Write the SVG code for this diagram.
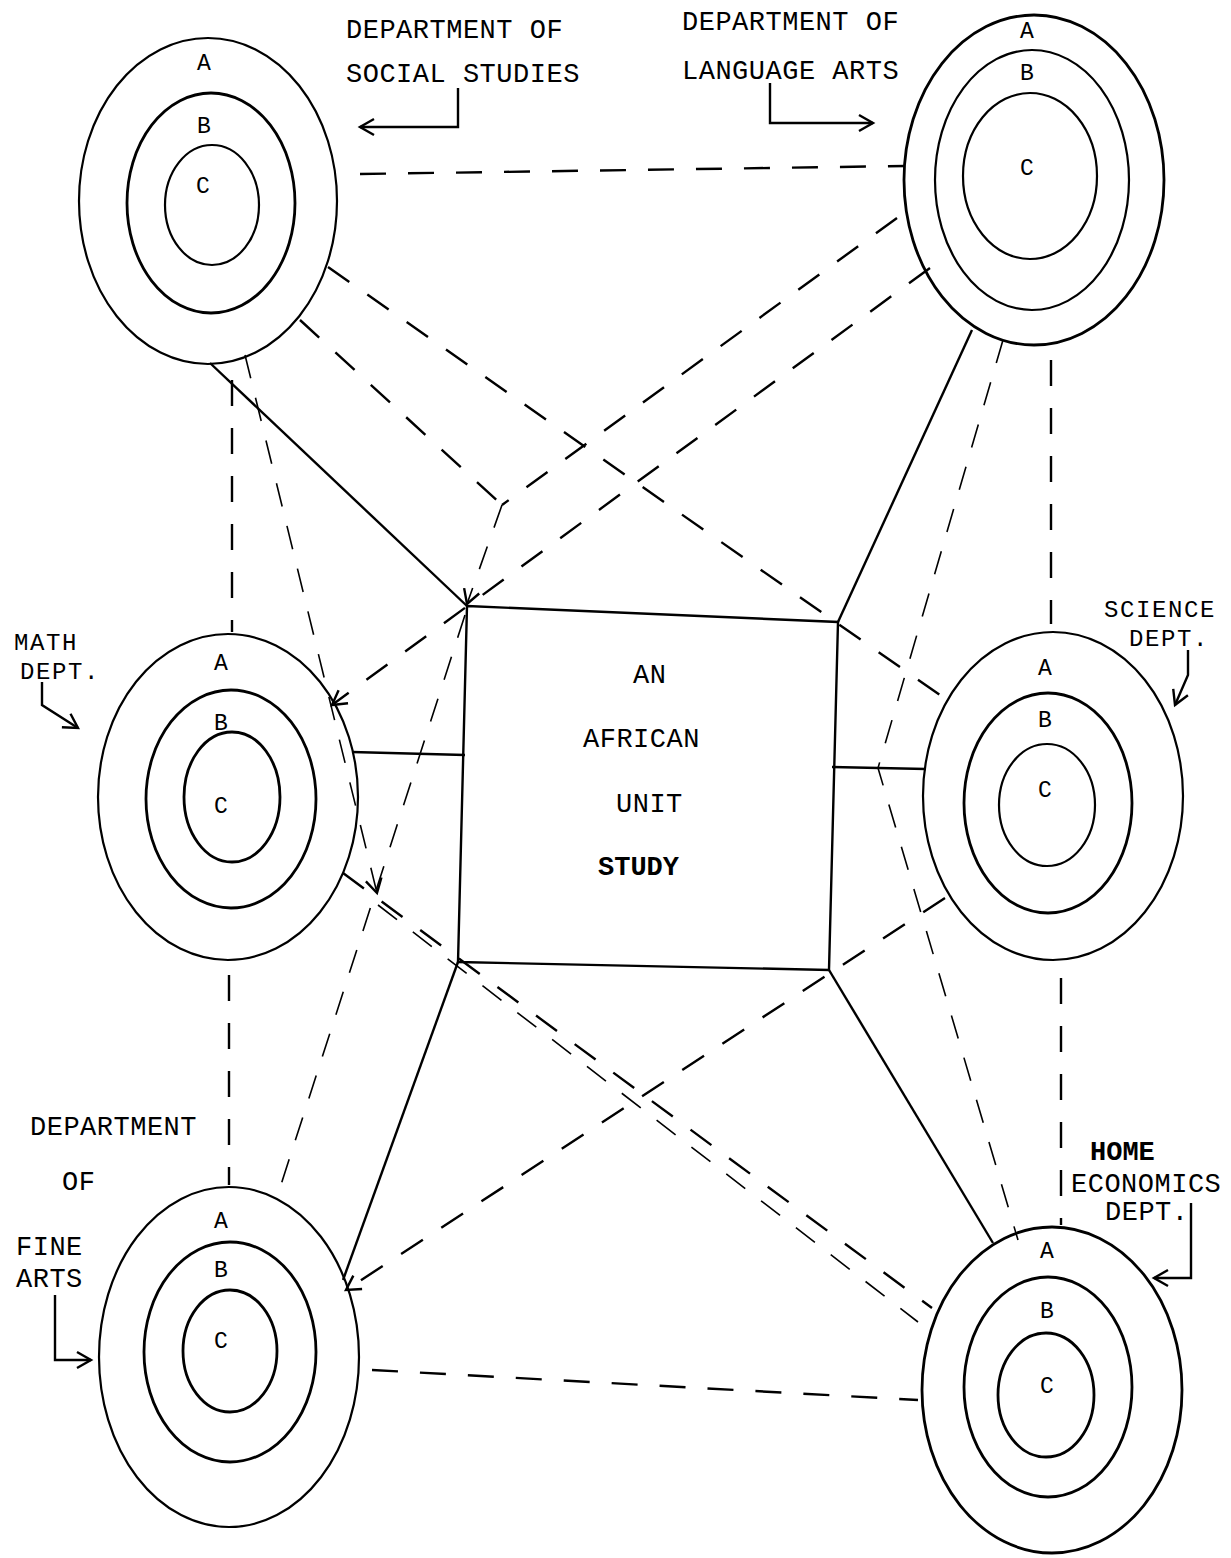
<svg xmlns="http://www.w3.org/2000/svg" width="1231" height="1558" viewBox="0 0 1231 1558">
<style>
.bg{fill:#fff}
.ring{fill:none;stroke:#000;stroke-width:2.2}
.ringb{fill:none;stroke:#000;stroke-width:2.8}
.d{fill:none;stroke:#000;stroke-width:2.4;stroke-dasharray:26 22}
.dt{fill:none;stroke:#000;stroke-width:1.6;stroke-dasharray:24 20}
.s{fill:none;stroke:#000;stroke-width:2.4}
.t{font-family:"Liberation Mono","Courier New",monospace;font-size:27px;fill:#000;letter-spacing:0.5px}
.ts{font-family:"Liberation Mono","Courier New",monospace;font-size:24px;fill:#000;letter-spacing:1.6px}
.tb{font-family:"Liberation Mono","Courier New",monospace;font-size:27px;fill:#000;font-weight:bold}
.n{font-family:"Liberation Mono","Courier New",monospace;font-size:23px;fill:#000;text-anchor:middle}
</style>
<defs>
<marker id="chev" viewBox="-16 -10 20 20" markerWidth="20" markerHeight="20" refX="0" refY="0" orient="auto" markerUnits="userSpaceOnUse">
<path d="M-14,-8 L0,0 L-14,8" fill="none" stroke="#000" stroke-width="2.4"/>
</marker>
</defs>
<rect class="bg" x="0" y="0" width="1231" height="1558"/>

<g id="connectors">
<path class="d" d="M360,174 L905,166"/>
<path class="d" d="M232,380 L232,632"/>
<path class="d" d="M1051,360 L1051,624"/>
<path class="d" d="M229,975 L229,1185"/>
<path class="d" d="M1061,978 L1061,1225"/>
<path class="d" d="M372,1370 L918,1400"/>
<path class="d" d="M328,267 L947,700"/>
<path class="d" d="M897,218 L502,505"/>
<path class="d" d="M300,320 L502,505"/>
<path class="dt" d="M502,505 L467,604" marker-end="url(#chev)"/>
<path class="d" d="M930,268 L332,705" marker-end="url(#chev)"/>
<path class="dt" d="M245,355 L377,893" marker-end="url(#chev)"/>
<path class="dt" d="M465,615 L277,1197"/>
<path class="d" d="M343,873 L932,1308"/>
<path class="dt" d="M378,905 L918,1322"/>
<path class="d" d="M945,898 L346,1290" marker-end="url(#chev)"/>
<path class="dt" d="M1003,340 L878,768 L1018,1240"/>
<path class="s" d="M210,363 L467,606"/>
<path class="s" d="M972,330 L838,622"/>
<path class="s" d="M352,752 L465,755"/>
<path class="s" d="M832,767 L926,769"/>
<path class="s" d="M458,962 L343,1280"/>
<path class="s" d="M829,970 L993,1243"/>
<path class="s" d="M458,88 L458,127 L360,127" marker-end="url(#chev)"/>
<path class="s" d="M770,83 L770,123 L873,123" marker-end="url(#chev)"/>
<path class="s" d="M42,682 L42,705 L78,728" marker-end="url(#chev)"/>
<path class="s" d="M1188,650 L1188,675 L1175,705" marker-end="url(#chev)"/>
<path class="s" d="M55,1295 L55,1360 L91,1360" marker-end="url(#chev)"/>
<path class="s" d="M1191,1203 L1191,1278 L1154,1278" marker-end="url(#chev)"/>
</g>

<g id="center">
<path class="s" d="M467,606 L838,622 L829,970 L458,962 Z"/>
<text class="t" x="633" y="683">AN</text>
<text class="t" x="583" y="747">AFRICAN</text>
<text class="t" x="616" y="812">UNIT</text>
<text class="tb" x="598" y="875">STUDY</text>
</g>

<g id="social-studies">
<ellipse class="ring" cx="208" cy="201" rx="129" ry="163"/>
<ellipse class="ringb" cx="211" cy="203" rx="84" ry="110"/>
<ellipse class="ring" cx="212" cy="205" rx="47" ry="60"/>
<text class="n" x="204" y="70">A</text>
<text class="n" x="204" y="133">B</text>
<text class="n" x="203" y="193">C</text>
<text class="t" x="346" y="38">DEPARTMENT OF</text>
<text class="t" x="346" y="82">SOCIAL STUDIES</text>
</g>

<g id="language-arts">
<ellipse class="ringb" cx="1034" cy="180" rx="130" ry="165"/>
<ellipse class="ring" cx="1032" cy="180" rx="97" ry="130"/>
<ellipse class="ring" cx="1030" cy="176" rx="67" ry="83"/>
<text class="n" x="1027" y="38">A</text>
<text class="n" x="1027" y="80">B</text>
<text class="n" x="1027" y="175">C</text>
<text class="t" x="682" y="30">DEPARTMENT OF</text>
<text class="t" x="682" y="79">LANGUAGE ARTS</text>
</g>

<g id="math">
<ellipse class="ring" cx="228" cy="797" rx="130" ry="163"/>
<ellipse class="ringb" cx="231" cy="799" rx="85" ry="109"/>
<ellipse class="ringb" cx="232" cy="797" rx="48" ry="65"/>
<text class="n" x="221" y="670">A</text>
<text class="n" x="221" y="730">B</text>
<text class="n" x="221" y="813">C</text>
<text class="ts" x="14" y="650">MATH</text>
<text class="ts" x="20" y="679">DEPT.</text>
</g>

<g id="science">
<ellipse class="ring" cx="1053" cy="796" rx="130" ry="164"/>
<ellipse class="ringb" cx="1048" cy="803" rx="84" ry="110"/>
<ellipse class="ring" cx="1047" cy="805" rx="48" ry="61"/>
<text class="n" x="1045" y="675">A</text>
<text class="n" x="1045" y="727">B</text>
<text class="n" x="1045" y="797">C</text>
<text class="ts" x="1104" y="617">SCIENCE</text>
<text class="ts" x="1129" y="646">DEPT.</text>
</g>

<g id="fine-arts">
<ellipse class="ring" cx="229" cy="1357" rx="130" ry="170"/>
<ellipse class="ringb" cx="230" cy="1352" rx="86" ry="110"/>
<ellipse class="ringb" cx="230" cy="1351" rx="47" ry="61"/>
<text class="n" x="221" y="1228">A</text>
<text class="n" x="221" y="1277">B</text>
<text class="n" x="221" y="1348">C</text>
<text class="t" x="30" y="1135">DEPARTMENT</text>
<text class="t" x="62" y="1190">OF</text>
<text class="t" x="16" y="1255">FINE</text>
<text class="t" x="16" y="1287">ARTS</text>
</g>

<g id="home-economics">
<ellipse class="ringb" cx="1052" cy="1390" rx="130" ry="163"/>
<ellipse class="ringb" cx="1048" cy="1387" rx="84" ry="110"/>
<ellipse class="ringb" cx="1046" cy="1395" rx="48" ry="62"/>
<text class="n" x="1047" y="1258">A</text>
<text class="n" x="1047" y="1318">B</text>
<text class="n" x="1047" y="1393">C</text>
<text class="tb" x="1090" y="1160">HOME</text>
<text class="t" x="1071" y="1192">ECONOMICS</text>
<text class="t" x="1105" y="1220">DEPT.</text>
</g>
</svg>
